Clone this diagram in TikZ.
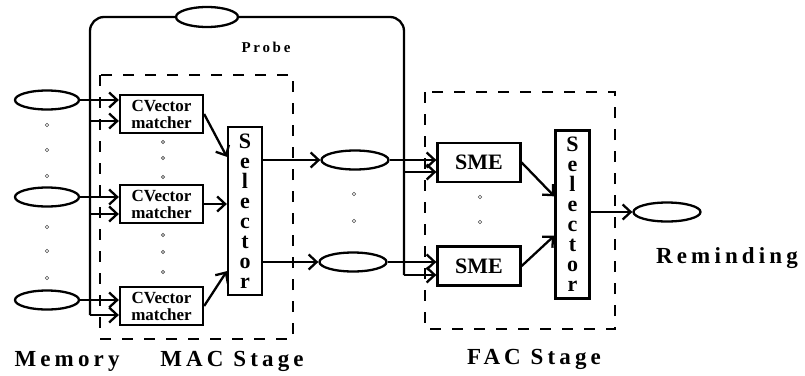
\documentclass[tikz,border=0pt]{standalone}
\usepackage{fontspec}
\setmainfont{Liberation Serif}
\newfontfamily\spacedfont[LetterSpace=18]{Liberation Serif}
\usetikzlibrary{arrows.meta, calc, positioning, shapes.geometric}

\begin{document}
\begin{tikzpicture}[x=1pt, y=-1pt, >={Straight Barb[length=8pt, width=15pt]},
    wire/.style={line width=2.3pt},
    stagebox/.style={line width=2.6pt, dash pattern=on 11pt off 11pt},
    cvbox/.style={draw, line width=2.3pt, minimum width=83pt, minimum height=38pt, inner sep=1pt,
        align=center, font=\fontsize{17}{17}\selectfont\bfseries},
    smebox/.style={draw, line width=2.3pt, minimum width=83pt, minimum height=39pt,
        font=\fontsize{22}{22}\selectfont\bfseries},
    selbox/.style={draw, line width=2.3pt, minimum width=34pt, minimum height=168pt, inner sep=1pt,
        align=center, font=\fontsize{22}{20}\selectfont\bfseries},
    store/.style={draw, ellipse, line width=2.3pt, minimum width=64pt, minimum height=19pt, inner sep=0pt},
    dot/.style={line width=0.6pt, draw=black!70},
    stagelabel/.style={font=\spacedfont\bfseries\fontsize{23}{24}\selectfont}]
\useasboundingbox (0,0) rectangle (805,375);

% Memory
\node[store] (mem1) at (47,100) {};
\node[store] (mem2) at (47,197) {};
\node[store] (mem3) at (47,300) {};
\foreach \y in {125,150,176,227,251,278}
    \draw[dot] (47,\y) circle (1.8pt);
\node[stagelabel] (memlbl) at (67,361) {Memory};

% MAC stage
\node[cvbox] (cv1) at (161.5,114) {CVector\\matcher};
\node[cvbox] (cv2) at (161.5,204) {CVector\\matcher};
\node[cvbox] (cv3) at (161.5,306) {CVector\\matcher};
\foreach \y in {142,158,177,235,252,272}
    \draw[dot] (163,\y) circle (1.6pt);
\node[selbox] (sel1) at (245,211) {S\\e\\l\\e\\c\\t\\o\\r};
\draw[stagebox] (100,75) rectangle (293,339);
\node[stagelabel] (maclbl) at (232,361) {MAC Stage};

% Between the stages
\node[store, minimum width=67pt] (mid1) at (355,160) {};
\node[store, minimum width=67pt] (mid2) at (353,262) {};
\foreach \y in {194,221}
    \draw[dot] (354,\y) circle (1.8pt);

% FAC stage
\node[smebox] (sme1) at (479,162.5) {SME};
\node[smebox] (sme2) at (479,266) {SME};
\foreach \y in {197,222}
    \draw[dot] (480,\y) circle (1.8pt);
\node[selbox] (sel2) at (572.5,214.5) {S\\e\\l\\e\\c\\t\\o\\r};
\draw[stagebox] (425,92) rectangle (615,329);
\node[stagelabel] (faclbl) at (534,359) {FAC Stage};

% Reminding
\node[store, minimum width=67pt] (rem) at (667,212) {};
\node[stagelabel] (remlbl) at (727,258) {Reminding};

% Probe loop
\node[store, minimum width=62pt, minimum height=20pt] (pr) at (207,17) {};
\node[stagelabel, font=\spacedfont\bfseries\fontsize{15}{17}\selectfont] (prlbl) at (266,47) {Probe};
\coordinate (pL) at (90,315);
\coordinate (pL1) at (90,121);
\coordinate (pL2) at (90,214);
\coordinate (pR) at (404,275);
\coordinate (pR1) at (404,172);
\draw[wire, rounded corners=14pt] (pr.west) -| (pL);
\draw[wire, rounded corners=14pt] (pr.east) -| (pR);
\draw[wire, ->] (pL1) -- (cv1.west |- pL1);
\draw[wire, ->] (pL2) -- (cv2.west |- pL2);
\draw[wire, ->] (pL) -- (cv3.west |- pL);
\draw[wire, ->] (pR1) -- (sme1.west |- pR1);
\draw[wire, ->] (pR) -- (sme2.west |- pR);

% Memory to matchers
\draw[wire, ->] (mem1) -- (cv1.west |- mem1);
\draw[wire, ->] (mem2) -- (cv2.west |- mem2);
\draw[wire, ->] (mem3) -- (cv3.west |- mem3);

% Matchers to selector
\coordinate (s1a) at ($(sel1.north west)+(0,31)$);
\coordinate (s1c) at ($(sel1.south west)+(0,-25)$);
\draw[wire, ->] (cv1.east) -- (s1a);
\draw[wire, ->] (cv2) -- (sel1.west |- cv2);
\draw[wire, ->] (cv3.east) -- (s1c);
\draw[wire, ->] (sel1.east |- mid1) -- (mid1);
\draw[wire, ->] (sel1.east |- mid2) -- (mid2);

% Into the FAC stage
\draw[wire, ->] (mid1) -- (sme1.west |- mid1);
\draw[wire, ->] (mid2) -- (sme2.west |- mid2);
\coordinate (s2a) at ($(sel2.north west)+(0,67)$);
\coordinate (s2b) at ($(sel2.south west)+(0,-64)$);
\draw[wire, ->] (sme1.east) -- (s2a);
\draw[wire, ->] (sme2.east) -- (s2b);
\draw[wire, ->] (sel2.east |- rem) -- (rem);
\end{tikzpicture}
\end{document}
